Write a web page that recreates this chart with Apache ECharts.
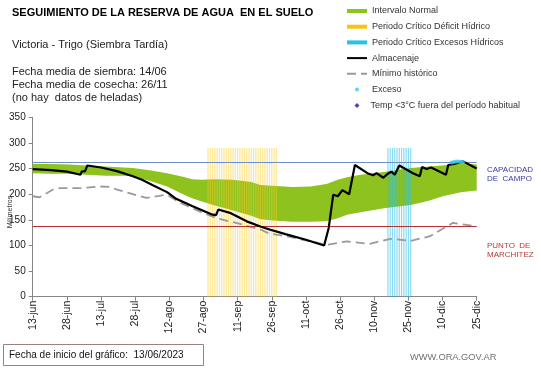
<!DOCTYPE html>
<html>
<head>
<meta charset="utf-8">
<script src="https://cdn.jsdelivr.net/npm/echarts@6/dist/echarts.min.js"></script>
<style>
html,body{margin:0;padding:0;background:#fff;}
#c{width:541px;height:368px;}
</style>
</head>
<body>
<div id="c"></div>
<script>
// ---- data (x = days since 13-jun) ----
const xTickLabels = ['13-jun','28-jun','13-jul','28-jul','12-ago','27-ago','11-sep','26-sep','11-oct','26-oct','10-nov','25-nov','10-dic','25-dic'];

const bandDays  = [0,   8,   16,  24,  32,  40,  44,  52,  59,  66,  70,  74,  80,  88,  96,  100, 107, 114, 122, 129, 134, 138, 144, 155, 166, 174, 180, 188, 195];
const bandLower = [241, 240, 240, 238, 236, 236, 235, 225, 215, 200, 192, 186, 178, 168, 158, 151, 148, 146, 146, 147, 153, 160, 165, 173, 179, 187, 196, 204, 207];
const bandUpper = [259, 259, 258, 256, 254, 252, 251, 246, 241, 234, 229, 228, 229, 228, 224, 218, 216, 214, 215, 220, 228, 233, 238, 244, 251, 254, 256, 261, 258];

const almacenaje = [[0,249],[8,247],[15,244],[21,238],[21.5,244],[23,245],[24,256],[30,252],[37,245],[44,235],[48,228],[53,217],[59,204],[63,191],[70,177],[79,160],[80.5,159],[81.5,170],[87,163],[94,147],[100,137],[104,131],[111,122],[120,111],[128,100],[130,134],[132,199],[134,196],[136,208],[139,200],[141.5,257],[147,241],[149.5,237],[151,241],[154,232],[156,240],[157.5,244],[159,238],[161,256],[167,241],[170,235],[171,253],[173,249],[175,252],[181.5,238],[182.5,257],[185,259],[189,264],[195,250]];

const minimoHistorico = [[0,196],[3,194],[9,209],[12,212],[22,212],[29.5,215],[34,214],[37,209],[44,200],[50,193],[53,195],[57.5,198],[60,196],[65,183],[73.5,166],[81,153],[91,142],[100,131],[104,123],[111.5,118],[122,108],[129,101],[138,108],[148,103],[157,113],[166,109],[174.5,118],[179.5,131],[184.5,144],[190.5,140],[195,137]];

const deficitDays = [77,78,79,80,81,82,83,84,85,86,87,88,89,90,91,92,93,94,95,96,97,98,99,100,101,102,103,104,105,106,107];
const excesoPeriodDays = [156,157,158,159,160,161,162,163,164,165,166];
const periodBarValue = 290;

const excesoPoints = [[184,262],[185,263],[186,264],[187,264],[188,263],[189,263]];
const tempBajaPoints = [];

const capacidadCampo = 262;
const puntoMarchitez = 138;

// ---- chart ----
const FONT = 'Liberation Sans, Arial, sans-serif';
const chart = echarts.init(document.getElementById('c'), null, {renderer: 'canvas'});

const option = {
  animation: false,
  backgroundColor: '#fff',
  textStyle: {fontFamily: FONT},
  title: [
    {text: 'SEGUIMIENTO DE LA RESERVA DE AGUA  EN EL SUELO', left: 12, top: 7, padding: 0,
     textStyle: {fontSize: 11, fontWeight: 'bold', color: '#000', fontFamily: FONT}},
    {text: 'Victoria - Trigo (Siembra Tardía)', left: 12, top: 39, padding: 0,
     textStyle: {fontSize: 11, fontWeight: 'normal', color: '#222', fontFamily: FONT}},
    {text: 'Fecha media de siembra: 14/06\nFecha media de cosecha: 26/11\n(no hay  datos de heladas)', left: 12, top: 65.5, padding: 0,
     textStyle: {fontSize: 11, fontWeight: 'normal', color: '#222', lineHeight: 13, fontFamily: FONT}}
  ],
  legend: [{
    orient: 'vertical', left: 346, top: 6.5, padding: 0, itemGap: 6.7,
    itemWidth: 20, itemHeight: 4,
    textStyle: {fontSize: 9, color: '#333', fontFamily: FONT},
    data: [
      {name: 'Intervalo Normal', icon: 'rect', itemStyle: {color: '#8dc21f', opacity: 1}},
      {name: 'Periodo Crítico Déficit Hídrico', icon: 'rect', itemStyle: {color: '#f7c21a', opacity: 1}},
      {name: 'Periodo Crítico Excesos Hídricos', icon: 'rect', itemStyle: {color: '#29c1ec', opacity: 1}},
      {name: 'Almacenaje', itemStyle: {opacity: 0}},
      {name: 'Mínimo histórico', itemStyle: {opacity: 0}},
      {name: 'Exceso'}
    ]
  }, {
    orient: 'vertical', left: 354.5, top: 101, padding: 0,
    itemWidth: 5, itemHeight: 5,
    textStyle: {fontSize: 9, color: '#333', fontFamily: FONT, padding: [0, 0, 0, 6]},
    data: [
      {name: 'Temp <3°C fuera del período habitual', icon: 'diamond'}
    ]
  }],
  grid: {left: 32.7, right: 64.3, top: 117.3, bottom: 71.3},
  xAxis: {
    type: 'value', min: 0, max: 195, interval: 15,
    axisLine: {show: true, lineStyle: {color: '#868686', width: 1}},
    axisTick: {show: true, length: 4, lineStyle: {color: '#868686'}},
    splitLine: {show: false},
    axisLabel: {rotate: 90, margin: 4, fontSize: 10.5, color: '#222', fontFamily: FONT,
      formatter: v => xTickLabels[Math.round(v / 15)] || ''}
  },
  yAxis: {
    type: 'value', min: 0, max: 350, interval: 50,
    axisLine: {show: true, lineStyle: {color: '#868686', width: 1}},
    axisTick: {show: true, length: 4, lineStyle: {color: '#868686'}},
    splitLine: {show: false},
    axisLabel: {margin: 7, fontSize: 10, color: '#222', fontFamily: FONT}
  },
  graphic: [
    {type: 'text', x: 10, y: 212, rotation: Math.PI / 2,
     style: {text: 'Milímetros', fontSize: 7, fill: '#333', textAlign: 'center', textVerticalAlign: 'middle', fontFamily: FONT}},
    {type: 'text', x: 487, y: 165.5,
     style: {text: 'CAPACIDAD\nDE  CAMPO', fontSize: 8, lineHeight: 9, fill: '#3a3aa6', fontFamily: FONT}},
    {type: 'text', x: 487, y: 241.5,
     style: {text: 'PUNTO  DE\nMARCHITEZ', fontSize: 8, lineHeight: 9, fill: '#b43a3a', fontFamily: FONT}},
    {type: 'rect', shape: {x: 3.5, y: 344.5, width: 200, height: 21},
     style: {fill: '#fff', stroke: '#9c7f7f', lineWidth: 1}},
    {type: 'text', x: 9, y: 355,
     style: {text: 'Fecha de inicio del gráfico:  13/06/2023', fontSize: 10, fill: '#111', textVerticalAlign: 'middle', fontFamily: FONT}},
    {type: 'text', x: 410, y: 357,
     style: {text: 'WWW.ORA.GOV.AR', fontSize: 9.3, fill: '#707070', textVerticalAlign: 'middle', fontFamily: FONT}}
  ],
  series: [
    {
      name: 'Intervalo Normal', type: 'custom', z: 1,
      itemStyle: {color: '#8dc21f'},
      data: [[0, 0]],
      renderItem: function (params, api) {
        const pts = [];
        for (let i = 0; i < bandDays.length; i++) pts.push(api.coord([bandDays[i], bandUpper[i]]));
        for (let i = bandDays.length - 1; i >= 0; i--) pts.push(api.coord([bandDays[i], bandLower[i]]));
        return {type: 'polygon', shape: {points: pts}, style: {fill: '#8dc21f'}};
      }
    },
    {
      name: 'refLines', type: 'line', data: [], z: 2, symbol: 'none',
      markLine: {
        silent: true, symbol: 'none', label: {show: false},
        data: [
          {yAxis: capacidadCampo, lineStyle: {color: '#6f8fcc', width: 1, type: 'solid'}},
          {yAxis: puntoMarchitez, lineStyle: {color: '#b53030', width: 1, type: 'solid'}}
        ]
      }
    },
    {
      name: 'Periodo Crítico Déficit Hídrico', type: 'bar', barWidth: 1.2, barGap: '-100%',
      data: deficitDays.map(d => [d, periodBarValue]),
      itemStyle: {color: 'rgba(247,205,40,0.5)'}, color: '#f7c21a', z: 3
    },
    {
      name: 'Periodo Crítico Excesos Hídricos', type: 'bar', barWidth: 1.2, barGap: '-100%',
      data: excesoPeriodDays.map(d => [d, periodBarValue]),
      itemStyle: {color: 'rgba(41,190,230,0.55)'}, color: '#29c1ec', z: 3
    },
    {
      name: 'Mínimo histórico', type: 'line', symbol: 'none', data: minimoHistorico,
      lineStyle: {color: '#9a9a9a', width: 1.8, type: [9, 5]}, color: '#9a9a9a', z: 4
    },
    {
      name: 'Almacenaje', type: 'line', symbol: 'none', data: almacenaje,
      lineStyle: {color: '#000', width: 2.2}, color: '#000', z: 5
    },
    {
      name: 'Exceso', type: 'scatter', symbol: 'circle', symbolSize: 4, data: excesoPoints,
      itemStyle: {color: '#3cc8e8'}, z: 6
    },
    {
      name: 'Temp <3°C fuera del período habitual', type: 'scatter', symbol: 'diamond', symbolSize: 5,
      data: tempBajaPoints, itemStyle: {color: '#1a1aa0'}, z: 6
    }
  ]
};
chart.setOption(option);
</script>
</body>
</html>
